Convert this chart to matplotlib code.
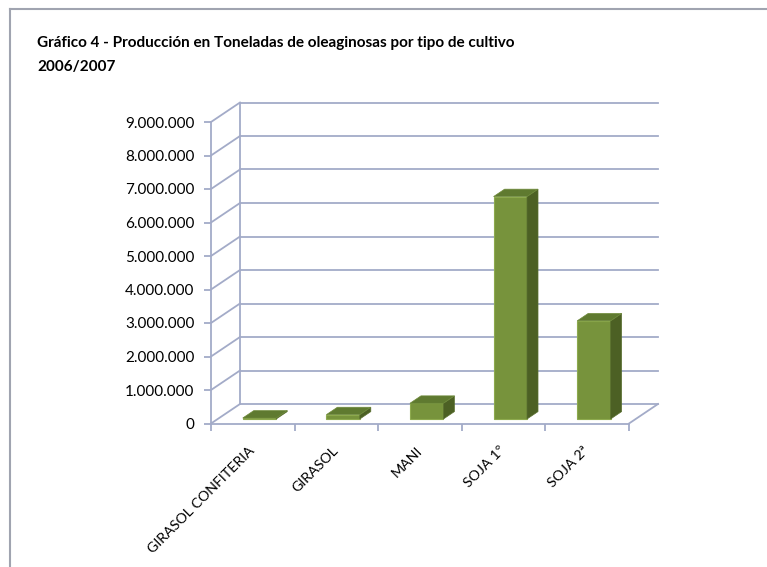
import matplotlib
matplotlib.use("Agg")
import matplotlib.pyplot as plt
from matplotlib.patches import Polygon

categories = ["GIRASOL CONFITERIA", "GIRASOL", "MANI", "SOJA 1º", "SOJA 2ª"]
toneladas = [30000, 130000, 470000, 6640000, 2930000]
y_ticks = [0, 1000000, 2000000, 3000000, 4000000, 5000000, 6000000, 7000000, 8000000, 9000000]

title = "Gráfico 4 - Producción en Toneladas de oleaginosas por tipo de cultivo\n2006/2007"

W, H = 767, 567
grid_c = "#A3ABC8"
front_c = "#77933C"
top_c = "#5F7A30"
side_c = "#4C6024"

fig = plt.figure(figsize=(W / 100, H / 100), dpi=100)
plt.rcParams["font.family"] = ["Lato", "DejaVu Sans"]

# front plot area in pixels: x 211..629, y 423.5 (zero) .. 122 (9M)
ax = fig.add_axes([211 / W, 1 - 423.5 / H, (629 - 211) / W, (423.5 - 122) / H])
ax.set_xlim(0, 5)
ax.set_ylim(0, 9000000)

px_x = 5 / (629 - 211)          # category units per pixel
px_y = 9000000 / (423.5 - 122)  # tonnes per pixel
dx, dy = 29 * px_x, 19.5 * px_y  # full depth of the 3d box

# walls
for v in y_ticks:
    ax.plot([dx, 5 + dx], [v + dy, v + dy], color=grid_c, lw=1.3, clip_on=False, zorder=1)
    ax.plot([0, dx], [v, v + dy], color=grid_c, lw=1.3, clip_on=False, zorder=1)
ax.plot([dx, dx], [dy, 9000000 + dy], color=grid_c, lw=1.3, clip_on=False, zorder=1)
ax.plot([5, 5 + dx], [0, dy], color=grid_c, lw=1.3, clip_on=False, zorder=1)

# bars
f0, f1 = 0.23, 0.61
for i, v in enumerate(toneladas):
    ox, oy = f0 * dx, f0 * dy
    bx, by = (f1 - f0) * dx, (f1 - f0) * dy
    x0 = i + 0.3 + ox
    x1 = i + 0.7 + ox
    front = Polygon([(x0, oy), (x1, oy), (x1, oy + v), (x0, oy + v)],
                    facecolor=front_c, edgecolor="#8DAA4E", lw=0.8, zorder=3, clip_on=False)
    side = Polygon([(x1, oy), (x1 + bx, oy + by), (x1 + bx, oy + v + by), (x1, oy + v)],
                   facecolor=side_c, edgecolor="#5A7030", lw=0.5, zorder=3, clip_on=False)
    top = Polygon([(x0, oy + v), (x1, oy + v), (x1 + bx, oy + v + by), (x0 + bx, oy + v + by)],
                  facecolor=top_c, edgecolor="#6E8A3A", lw=0.5, zorder=3, clip_on=False)
    ax.add_patch(front)
    ax.add_patch(side)
    ax.add_patch(top)

# axes
for s in ["top", "right"]:
    ax.spines[s].set_visible(False)
ax.spines["left"].set_color(grid_c)
ax.spines["bottom"].set_color(grid_c)
ax.spines["left"].set_linewidth(1.3)
ax.spines["bottom"].set_linewidth(1.3)
ax.set_yticks(y_ticks)
ax.set_yticklabels([f"{v:,}".replace(",", ".") for v in y_ticks], fontsize=11)
ax.set_xticks(range(6))
ax.set_xticklabels([])
ax.tick_params(axis="y", length=5, width=1.3, color=grid_c, pad=7)
ax.tick_params(axis="x", length=5, width=1.3, color=grid_c)
ax.patch.set_alpha(0)

for i, c in enumerate(categories):
    ax.text(i + 0.5 + 0.0, -0.75e6, c, rotation=45, rotation_mode="anchor",
            ha="right", va="center", fontsize=10.3)

fig.text(37 / W, 1 - 36 / H, title, fontsize=11, fontweight="bold",
         va="top", ha="left", linespacing=1.9)

# outer chart border (only top and left visible)
fig.add_artist(plt.Line2D([10 / W, 10 / W], [0, 1 - 9 / H], color="#A0A4B0", lw=1.5))
fig.add_artist(plt.Line2D([10 / W, 1], [1 - 9 / H, 1 - 9 / H], color="#A0A4B0", lw=1.5))

fig.savefig("out.png", dpi=100)
